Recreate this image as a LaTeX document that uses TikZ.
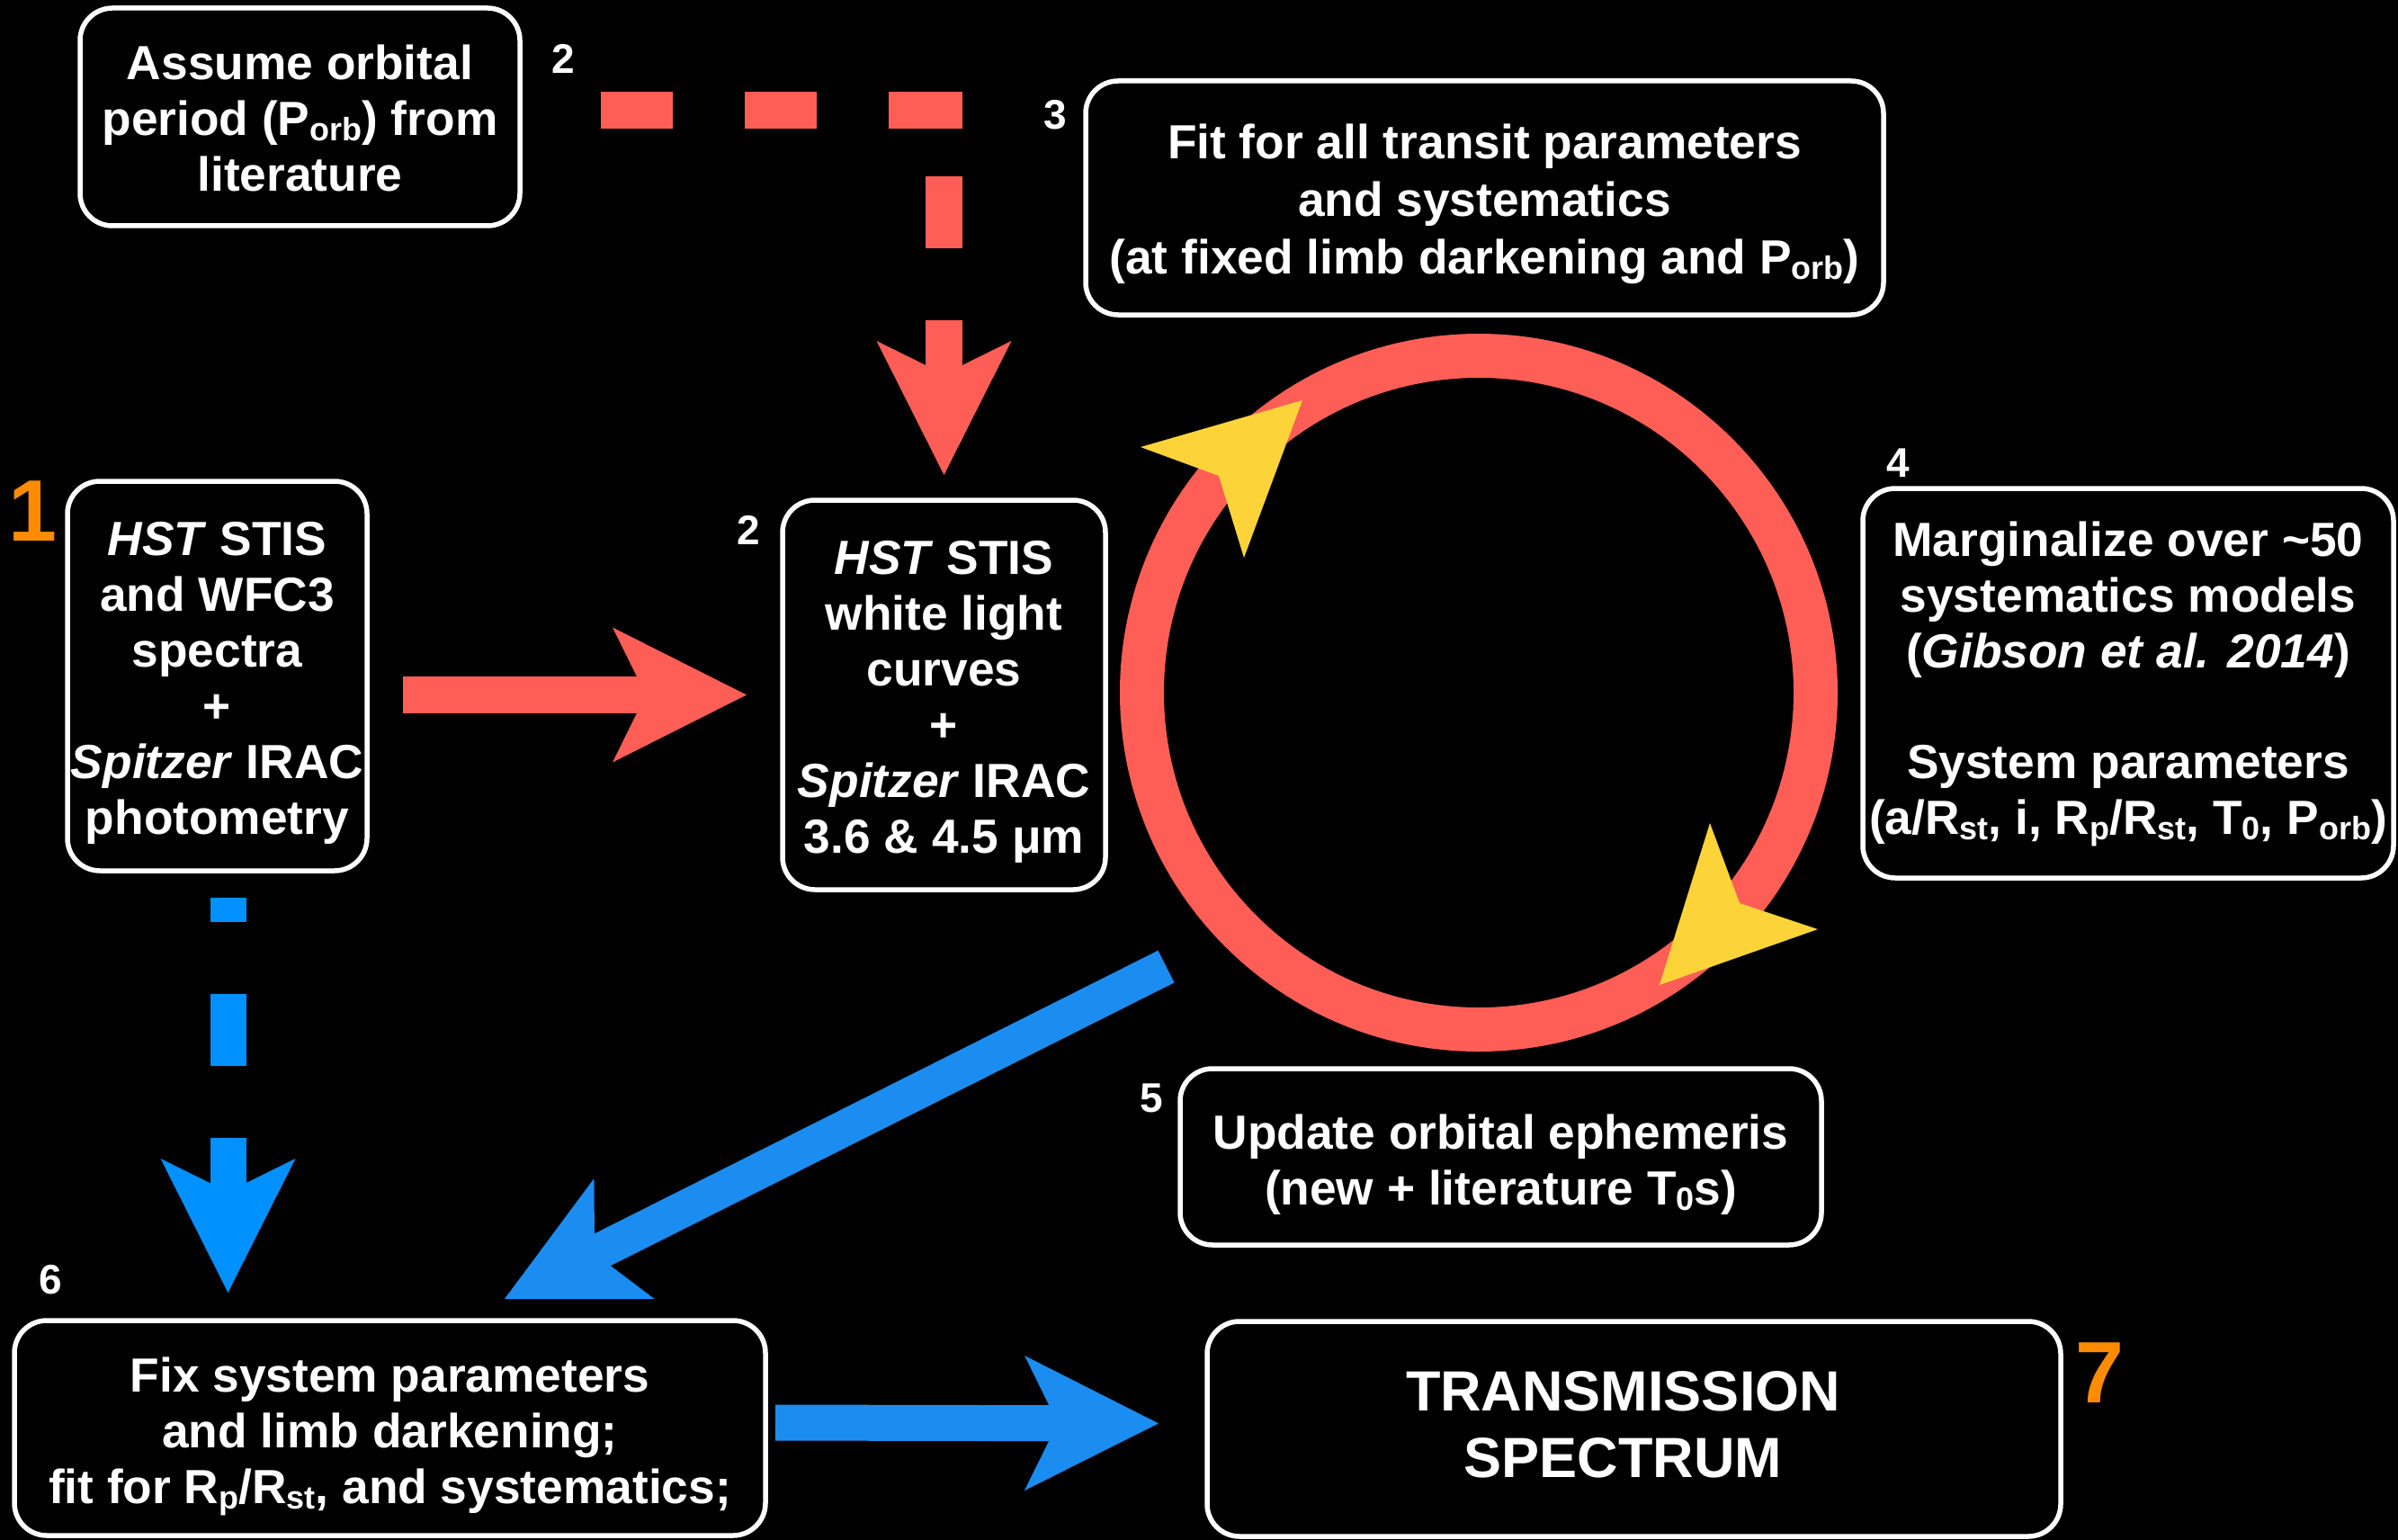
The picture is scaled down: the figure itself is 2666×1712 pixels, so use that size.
\documentclass[tikz,border=0pt]{standalone}
\usepackage{fontspec}
\setmainfont{Liberation Sans}
\usetikzlibrary{arrows.meta}
\definecolor{cred}{RGB}{254,94,86}
\definecolor{cyellow}{RGB}{252,212,58}
\definecolor{cblueA}{RGB}{0,145,255}
\definecolor{cblueB}{RGB}{28,141,240}
\definecolor{corange}{RGB}{255,140,0}
\newcommand{\sbs}[1]{\raisebox{-6pt}[0pt][0pt]{\fontsize{36}{36}\selectfont #1}}
\newcommand{\ts}{\rule[-11.3pt]{0pt}{48.2pt}}
\newcommand{\tst}{\rule{0pt}{52.5pt}}
\begin{document}
\begin{tikzpicture}[x=1pt,y=-1pt,
  box/.style={draw=white, line width=5.5pt, rounded corners=36pt, text=white,
     align=center, inner sep=0pt, outer sep=0pt,
     font=\bfseries\fontsize{53.3}{62}\selectfont},
  num/.style={text=white, inner sep=0pt, font=\bfseries\fontsize{46}{46}\selectfont},
  bignum/.style={text=corange, inner sep=0pt, font=\bfseries\fontsize{97}{97}\selectfont},
  fattip/.style={-{Stealth[length=149pt,width=150pt,inset=37pt,line width=0pt]}},
]
\fill[black] (0,0) rectangle (2666,1712);
\useasboundingbox (0,0) rectangle (2666,1712);

% boxes
\node[box, minimum width=489pt, minimum height=242pt] (A) at (333.5,130)
  {\tst Assume orbital\\period (P\sbs{orb}) from\\literature\ts};
\node[box, minimum width=333pt, minimum height=433pt] (S1) at (241.5,751.5)
  {\tst\textit{HST} STIS\\and WFC3\\spectra\\+\\\textit{Spitzer} IRAC\\photometry\ts};
\node[box, minimum width=359pt, minimum height=433pt] (B) at (1049.5,772.5)
  {\tst\textit{HST} STIS\\white light\\curves\\+\\\textit{Spitzer} IRAC\\3.6 \& 4.5 μm\ts};
\node[box, minimum width=887pt, minimum height=260pt, font=\bfseries\fontsize{53.3}{64}\selectfont] (C) at (1650.5,220)
  {\tst Fit for all transit parameters\\and systematics\\(at fixed limb darkening and P\sbs{orb})\ts};
\node[box, minimum width=590pt, minimum height=433pt] (D) at (2366,759.5)
  {Marginalize over \textasciitilde50\\systematics models\\(\textit{Gibson et al. 2014})\\[61pt]System parameters\\(a/R\sbs{st}, i, R\sbs{p}/R\sbs{st}, T\sbs{0}, P\sbs{orb})};
\node[box, minimum width=713pt, minimum height=196pt] (E) at (1668.5,1286)
  {\rule{0pt}{56pt}Update orbital ephemeris\\(new + literature T\sbs{0}s)\ts};
\node[box, minimum width=835pt, minimum height=239pt] (F) at (433.5,1587.5)
  {\rule{0pt}{56pt}Fix system parameters\\and limb darkening;\\fit for R\sbs{p}/R\sbs{st}, and systematics;\ts};
\node[box, minimum width=949pt, minimum height=239pt, font=\bfseries\fontsize{63}{74}\selectfont] (G) at (1816.5,1588.5)
  {TRANSMISSION\hspace*{24pt}\\SPECTRUM\hspace*{24pt}\rule[-10pt]{0pt}{0pt}};

% step numbers
\node[num] (l2a) at (626,65) {2};
\node[num] (l3) at (1173,127.5) {3};
\node[num] (l2b) at (832,589) {2};
\node[num] (l4) at (2110,515) {4};
\node[num] (l5) at (1280,1221) {5};
\node[num] (l6) at (56,1423) {6};
\node[bignum] (n1) at (36,568.5) {1};
\node[bignum] (n7) at (2334,1526) {7};

% iteration loop
\node[circle, draw=cred, line width=49pt, minimum size=749pt, inner sep=0pt] (ring) at (1644,770) {};
\fill[cyellow] (1268,497) -- (1355,529) -- (1383,620) -- (1448,445) -- cycle;
\fill[cyellow] (1901,915) -- (1934,1004) -- (2021,1033) -- (1845,1095) -- cycle;

% connectors
\draw[cred, line width=41pt, fattip, shorten <=40pt, shorten >=40pt]
  (S1.east |- B.west) -- (B.west);
\draw[cred, line width=41pt, fattip, shorten >=28pt,
  dash pattern=on 80pt off 80pt on 80pt off 80pt on 81.5pt off 53pt on 80pt off 80pt on 800pt]
  ([xshift=90pt,yshift=7pt]A.east) -| (B.north);
\coordinate (s1out) at ([xshift=12pt]S1.south);
\draw[cblueA, line width=40pt, fattip, shorten <=30pt, shorten >=31pt,
  dash pattern=on 27pt off 80pt on 80pt off 80pt on 800pt]
  (s1out) -- (s1out |- F.north);
\coordinate (loopout) at (1296.5,1074.5);
\draw[cblueB, line width=40pt, fattip]
  (loopout) -- ([xshift=127.5pt,yshift=24pt]F.north);
\draw[cblueB, line width=40pt, fattip, shorten <=11pt, shorten >=54pt]
  ([yshift=6pt]F.east) -- ([yshift=6pt]G.west);
\end{tikzpicture}
\end{document}
